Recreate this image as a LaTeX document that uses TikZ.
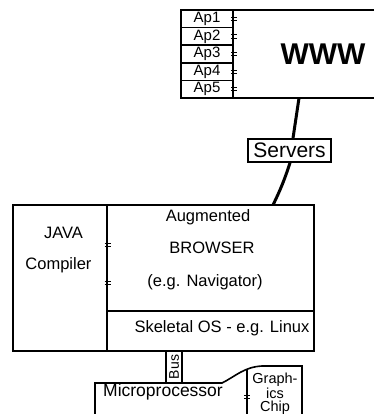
\documentclass[tikz,border=0pt]{standalone}
\usepackage{fontspec}
\setmainfont{Liberation Sans}
\begin{document}
\begin{tikzpicture}[x=1pt,y=-1pt,line width=1.6pt,
  box/.style={draw,rectangle,inner sep=0pt,line width=1.6pt},
  lbl/.style={inner sep=0pt,font=\fontsize{16.5}{18}\selectfont},
  aplbl/.style={box,minimum width=52pt,minimum height=17.6pt,font=\fontsize{15}{16}\selectfont},
  link/.style={line width=3pt},
  dbar/.pic={\draw[line width=0.9pt] (-3,-1.6) -- (3,-1.6) (-3,1.6) -- (3,1.6);}]
\useasboundingbox (0,0) rectangle (374,414);
% WWW box (open on the right)
\draw (374,10) -- (181,10) -- (181,98) -- (374,98);
\foreach \i in {1,...,5}{
  \node[aplbl] (ap\i) at (207,{10+17.6*(\i-0.5)}) {Ap\i};
  \pic at (234,{10+17.6*(\i-0.5)}) {dbar};
}
\node[inner sep=0pt,font=\fontsize{30}{32}\selectfont\bfseries] (www) at (323,54) {WWW};
% Servers
\node[box,minimum width=83pt,minimum height=23pt,font=\fontsize{21}{23}\selectfont] (servers) at (289.5,150.5) {Servers};
\coordinate (wwwfoot) at (299,98);
\coordinate (mainhead) at (273,205);
\draw[link] (wwwfoot) -- (servers.north -| 293,0);
\draw[link] (servers.south -| 290,0) to[bend left=4] (mainhead);
% Main block
\node[box,minimum width=94pt,minimum height=146pt] (java) at (60,278) {};
\node[box,minimum width=207pt,minimum height=106pt] (browser) at (210.5,258) {};
\node[box,minimum width=207pt,minimum height=40pt] (os) at (210.5,331) {};
\node[lbl] (javat) at (63.5,233) {JAVA};
\node[lbl] (compt) at (58.5,265) {Compiler};
\node[lbl] (augt) at (208,217) {Augmented};
\node[lbl] (brt) at (212,248) {BROWSER};
\node[lbl] (navt) at (205,282) {(e.g. Navigator)};
\node[lbl] (ost) at (222,328) {Skeletal OS - e.g. Linux};
\pic at (107.5,245) {dbar};
\pic at (107.5,283) {dbar};
% Bus
\node[box,minimum width=16pt,minimum height=32pt] (bus) at (174,367) {};
\node[inner sep=0pt,rotate=90,font=\fontsize{14}{15}\selectfont] (bust) at (bus) {Bus};
% Microprocessor and graphics chip
\draw (95,414) -- (95,383) -- (222,383) .. controls (236,376) and (244,367) .. (262,366) -- (302,366) -- (302,414);
\draw (247,370) -- (247,414);
\pic at (247,397) {dbar};
\node[inner sep=0pt,font=\fontsize{17.5}{19}\selectfont] (micro) at (163,392) {Microprocessor};
\node[inner sep=0pt,align=center,font=\fontsize{14.5}{13.5}\selectfont] (gfx) at (275,394) {Graph-\\ics\\Chip};
\end{tikzpicture}
\end{document}
